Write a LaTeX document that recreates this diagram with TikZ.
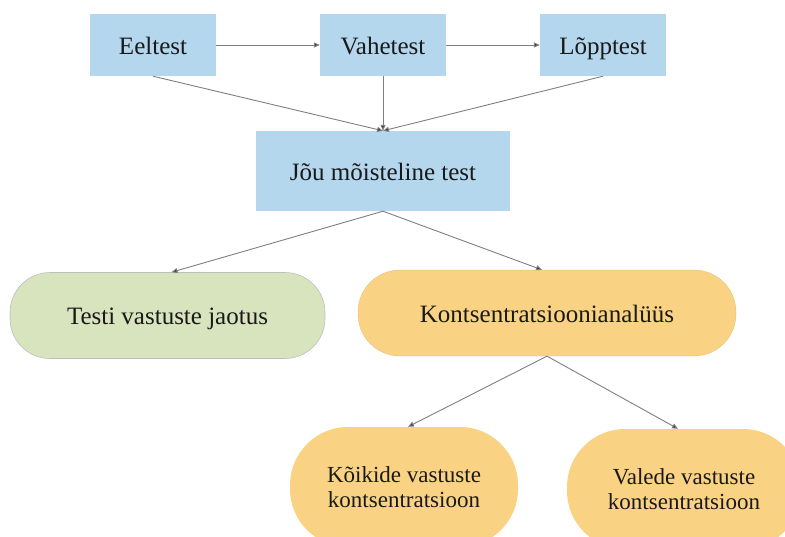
\documentclass[tikz,border=0pt]{standalone}
\usepackage{fontspec}
\setmainfont{Liberation Serif}
\usetikzlibrary{arrows.meta}
\definecolor{boxblue}{HTML}{B4D7EE}
\definecolor{boxgreen}{HTML}{D8E4BD}
\definecolor{boxorange}{HTML}{F9D383}
\definecolor{linegray}{HTML}{7F7F7F}
\definecolor{tipgray}{HTML}{404040}
\begin{document}
\begin{tikzpicture}[x=1pt,y=-1pt,
  onetext/.style={inner sep=0pt, text height=18pt, text depth=0pt, font=\rmfamily\fontsize{25}{30}\selectfont, text=black!90},
  bluebox/.style={rectangle, fill=boxblue, draw=none, onetext},
  greenpill/.style={rectangle, rounded corners=40pt, fill=boxgreen, draw=black!25, line width=0.6pt, onetext},
  orangepill/.style={rectangle, rounded corners=42pt, fill=boxorange, draw=boxorange!90!black, line width=0.3pt, onetext},
  orangebig/.style={rectangle, rounded corners=58pt, fill=boxorange, draw=none, inner sep=0pt, align=center, font=\rmfamily\fontsize{23}{25}\selectfont, text=black!90},
  conn/.style={draw=linegray, line width=0.9pt, -{Triangle[length=6pt,width=5pt,fill=tipgray]}}
]
\useasboundingbox (0,0) rectangle (785,536);
\clip (0,0) rectangle (785,536);
\node[bluebox, minimum width=126pt, minimum height=62pt] (eel) at (153,45) {Eeltest};
\node[bluebox, minimum width=126pt, minimum height=62pt] (vah) at (383,45) {Vahetest};
\node[bluebox, minimum width=126pt, minimum height=62pt] (lop) at (603,45) {Lõpptest};
\node[bluebox, minimum width=254pt, minimum height=80pt] (jou) at (383,171) {Jõu mõisteline test};
\node[greenpill, minimum width=315pt, minimum height=86pt] (testi) at (167.5,315.5) {Testi vastuste jaotus};
\node[orangepill, minimum width=378pt, minimum height=86pt] (kon) at (547,313) {Kontsentratsioonianalüüs};
\node[orangebig, minimum width=228pt, minimum height=120pt] (koik) at (404,487) {Kõikide vastuste\\kontsentratsioon};
\node[orangebig, minimum width=234pt, minimum height=120pt] (val) at (684,489) {Valede vastuste\\kontsentratsioon};
\draw[conn] (eel.east) -- (vah.west);
\draw[conn] (vah.east) -- (lop.west);
\draw[conn] (eel.south) -- (jou.north);
\draw[conn] (vah.south) -- (jou.north);
\draw[conn] (lop.south) -- (jou.north);
\draw[conn] (jou.south) -- ([xshift=4pt]testi.north);
\draw[conn] (jou.south) -- ([xshift=-5pt]kon.north);
\draw[conn] (kon.south) -- ([xshift=4pt]koik.north);
\draw[conn] (kon.south) -- ([xshift=-6pt]val.north);
\end{tikzpicture}
\end{document}
